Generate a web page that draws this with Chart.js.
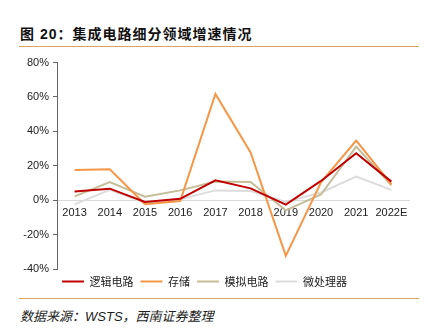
<!DOCTYPE html>
<html>
<head>
<meta charset="utf-8">
<script src="https://cdn.jsdelivr.net/npm/chart.js@4"></script>
<style>
    body { margin: 0; background: #fff; font-family: "Liberation Sans", "Noto Sans CJK SC", sans-serif; }
    .page { position: relative; width: 428px; height: 333px; overflow: hidden; }
    .title { position: absolute; left: 20px; top: 23px; font-size: 14px; font-weight: bold; color: #111; letter-spacing: 1px; }
    .rule { position: absolute; left: 19px; width: 400px; height: 1px; background: #d9a45e; }
    .source { position: absolute; left: 20px; top: 306px; font-size: 13px; font-style: italic; color: #222; }
    .chart-box { position: absolute; left: 0; top: 52px; width: 428px; height: 245px; }
</style>
</head>
<body>
<div class="page">
    <div class="title">图 20：集成电路细分领域增速情况</div>
    <div class="rule" style="top:46px"></div>
    <div class="chart-box"><canvas id="icChart"></canvas></div>
    <div class="rule" style="top:298px"></div>
    <div class="source">数据来源：WSTS，西南证券整理</div>
</div>
<script>
const years = ['2013', '2014', '2015', '2016', '2017', '2018', '2019', '2020', '2021', '2022E'];
const logicGrowth = [5.1, 6.7, -1, 0.8, 11.6, 6.9, -2.6, 11.2, 27.3, 10.8];
const memoryGrowth = [17.6, 18, -2.4, -0.5, 61.8, 27.8, -32.4, 10.4, 34.7, 9.2];
const analogGrowth = [2.2, 10.6, 2, 5.7, 10.8, 10.6, -5.9, 3.3, 31.2, 8.6];
const microGrowth = [-2.4, 6, -1.5, 0.5, 5.7, 5.3, -1, 4.5, 13.7, 6];

const seriesNames = ['逻辑电路', '存储', '模拟电路', '微处理器'];
const seriesColors = ['#c00000', '#f79646', '#c4bd97', '#dcdcdc'];

document.addEventListener('DOMContentLoaded', () => {
    const allData = [logicGrowth, memoryGrowth, analogGrowth, microGrowth];
    // lower order draws on top, so red ends up above the rest
    const datasets = allData.map((d, i) => ({
        label: seriesNames[i],
        data: d,
        borderColor: seriesColors[i],
        backgroundColor: seriesColors[i],
        borderWidth: 2,
        pointRadius: 0,
        tension: 0,
        order: i
    }));

    const ctx = document.getElementById('icChart').getContext('2d');
    new Chart(ctx, {
        type: 'line',
        data: { labels: years, datasets: datasets },
        options: {
            responsive: true,
            maintainAspectRatio: false,
            animation: false,
            layout: { padding: { top: 7, right: 19, left: 0, bottom: 0 } },
            plugins: {
                legend: {
                    position: 'bottom',
                    labels: {
                        boxWidth: 22,
                        boxHeight: 2,
                        padding: 7,
                        color: '#222',
                        font: { size: 11, family: '"Noto Sans CJK SC", sans-serif' },
                        generateLabels: chart => chart.data.datasets.map((ds, i) => ({
                            text: ds.label,
                            fillStyle: ds.borderColor,
                            strokeStyle: ds.borderColor,
                            lineWidth: 0,
                            fontColor: '#222',
                            datasetIndex: i
                        }))
                    }
                },
                tooltip: { enabled: false }
            },
            scales: {
                x: {
                    position: { y: 0 },
                    offset: true,
                    grid: { display: false },
                    border: { display: true, color: '#d9d9d9', width: 1 },
                    ticks: { color: '#222', padding: -2, maxRotation: 0, autoSkip: false, font: { size: 11, family: '"Liberation Sans", sans-serif' } }
                },
                y: {
                    min: -40,
                    max: 80,
                    afterFit: scale => { scale.width = 57; },
                    ticks: {
                        stepSize: 20,
                        color: '#222',
                        padding: 4,
                        font: { size: 11, family: '"Liberation Sans", sans-serif' },
                        callback: v => v + '%'
                    },
                    grid: { color: 'rgba(0,0,0,0)', tickColor: '#666', tickLength: 4, drawOnChartArea: false },
                    border: { display: true, color: '#666', width: 1 }
                }
            }
        }
    });
});
</script>
</body>
</html>
